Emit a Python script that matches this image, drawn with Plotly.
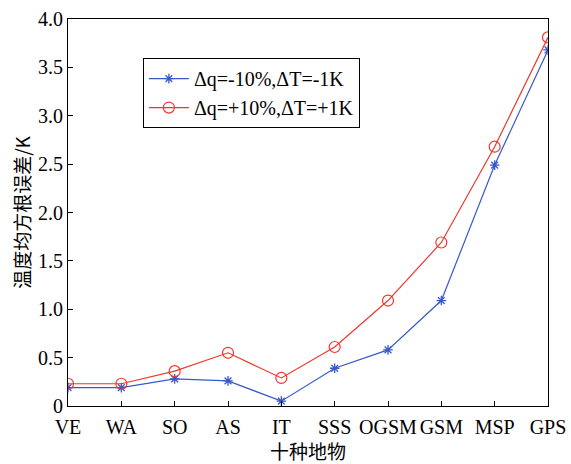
import plotly.graph_objects as go

categories = ["VE", "WA", "SO", "AS", "IT", "SSS", "OGSM", "GSM", "MSP", "GPS"]
series_minus = [0.19, 0.19, 0.28, 0.26, 0.05, 0.39, 0.58, 1.09, 2.49, 3.68]
series_plus = [0.23, 0.23, 0.36, 0.55, 0.29, 0.61, 1.09, 1.69, 2.68, 3.81]
name_minus = "Δq=-10%,ΔT=-1K"
name_plus = "Δq=+10%,ΔT=+1K"
y_ticks = [0, 0.5, 1.0, 1.5, 2.0, 2.5, 3.0, 3.5, 4.0]
y_tick_labels = ["0", "0.5", "1.0", "1.5", "2.0", "2.5", "3.0", "3.5", "4.0"]

blue = "rgb(55,90,200)"
red = "rgb(240,55,45)"

fig = go.Figure()
fig.add_trace(go.Scatter(
    x=list(range(len(categories))), y=series_minus, name=name_minus,
    mode="lines+markers",
    line=dict(color=blue, width=1.2),
    marker=dict(symbol="asterisk-open", size=8, color=blue, line=dict(color=blue, width=1.3)),
))
fig.add_trace(go.Scatter(
    x=list(range(len(categories))), y=series_plus, name=name_plus,
    mode="lines+markers",
    line=dict(color=red, width=1.2),
    marker=dict(symbol="circle-open", size=11, color=red, line=dict(color=red, width=1.2)),
))

serif = "Liberation Serif, Times New Roman, serif"
fig.update_layout(
    width=571, height=464,
    margin=dict(l=68, r=23, t=19, b=58, autoexpand=False),
    paper_bgcolor="white", plot_bgcolor="white",
    font=dict(family=serif, size=20, color="black"),
    showlegend=True,
    legend=dict(
        x=0.156, y=0.899, xanchor="left", yanchor="top",
        bordercolor="black", borderwidth=1, bgcolor="white",
        font=dict(family=serif, size=20, color="black"),
        tracegroupgap=0, itemwidth=40,
    ),
    xaxis=dict(
        range=[0, 9], tickmode="array",
        tickvals=list(range(len(categories))), ticktext=categories,
        tickangle=0, automargin=False,
        ticks="inside", ticklen=5, tickcolor="black",
        showline=True, linecolor="black", linewidth=1, mirror=True,
        showgrid=False, zeroline=False,
        tickfont=dict(family=serif, size=20),
        ticklabelstandoff=3,
        title=dict(text="十种地物", font=dict(family="Noto Sans CJK SC", size=19), standoff=4),
    ),
    yaxis=dict(
        range=[0, 4], tickmode="array", tickvals=y_ticks, ticktext=y_tick_labels,
        automargin=False,
        ticks="inside", ticklen=5, tickcolor="black",
        showline=True, linecolor="black", linewidth=1, mirror=True,
        showgrid=False, zeroline=False,
        tickfont=dict(family=serif, size=20),
        title=dict(text="温度均方根误差/K", font=dict(family="Noto Sans CJK SC", size=19), standoff=2),
    ),
)
fig.write_html("out.html")
